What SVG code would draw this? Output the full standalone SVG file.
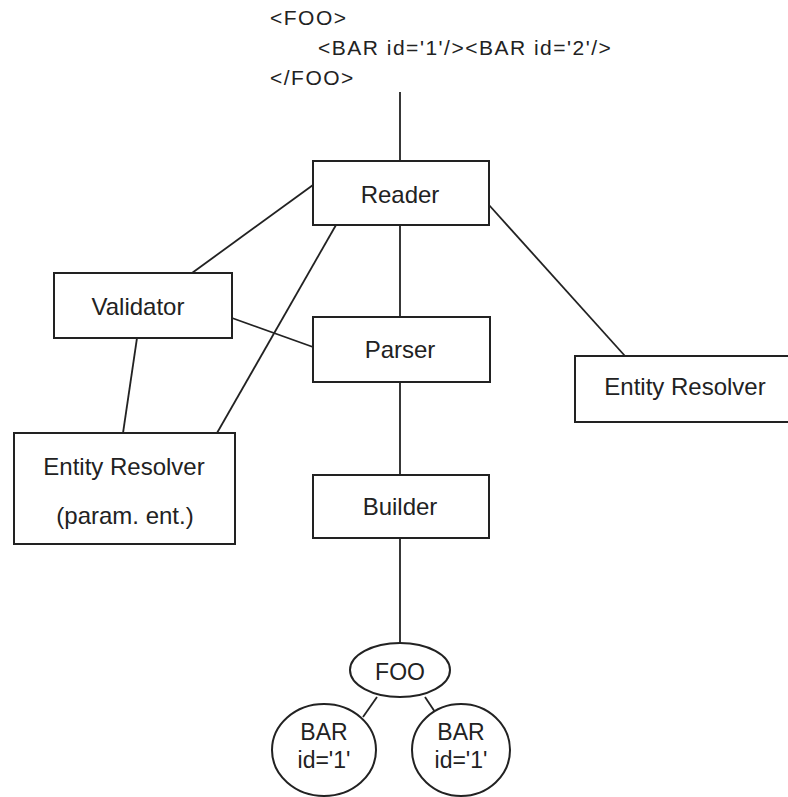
<svg xmlns="http://www.w3.org/2000/svg" width="788" height="797" viewBox="0 0 788 797">
<style>
.box{fill:#fff;stroke:#222;stroke-width:2}
.ell{fill:#fff;stroke:#222;stroke-width:2}
.conn line{stroke:#222;stroke-width:1.8}
text{font-family:"Liberation Sans",Arial,sans-serif;fill:#222}
.lbl{font-size:24px;text-anchor:middle}
.top{font-size:21px;letter-spacing:1.5px}
.el{font-size:23px;text-anchor:middle}
</style>
<rect width="788" height="797" fill="#fff"/>
<g id="source-xml">
<text class="top" x="270" y="25">&lt;FOO&gt;</text>
<text class="top" x="318" y="55">&lt;BAR id='1'/&gt;&lt;BAR id='2'/&gt;</text>
<text class="top" x="270" y="85">&lt;/FOO&gt;</text>
</g>
<g id="connectors" class="conn">
<line x1="400" y1="92" x2="400" y2="161"/>
<line x1="400" y1="225" x2="400" y2="317"/>
<line x1="400" y1="382" x2="400" y2="475"/>
<line x1="400" y1="538" x2="400" y2="643"/>
<line x1="313" y1="185" x2="192" y2="273"/>
<line x1="336" y1="225" x2="217" y2="433"/>
<line x1="232" y1="318" x2="313" y2="347"/>
<line x1="137" y1="338" x2="123" y2="433"/>
<line x1="489" y1="205" x2="625" y2="356"/>
<line x1="377" y1="697" x2="363" y2="717"/>
<line x1="425" y1="697" x2="435" y2="712"/>
</g>
<g id="reader"><rect class="box" x="313" y="161" width="176" height="64"/><text class="lbl" x="400" y="203">Reader</text></g>
<g id="parser"><rect class="box" x="313" y="317" width="177" height="65"/><text class="lbl" x="400" y="358">Parser</text></g>
<g id="builder"><rect class="box" x="313" y="475" width="176" height="63"/><text class="lbl" x="400" y="515">Builder</text></g>
<g id="validator"><rect class="box" x="54" y="273" width="178" height="65"/><text class="lbl" x="138" y="315">Validator</text></g>
<g id="entity-resolver-param"><rect class="box" x="14" y="433" width="221" height="111"/><text class="lbl" x="124" y="475">Entity Resolver</text><text class="lbl" x="125" y="524">(param. ent.)</text></g>
<g id="entity-resolver"><rect class="box" x="575" y="356" width="240" height="66"/><text class="lbl" x="685" y="395">Entity Resolver</text></g>
<g id="foo"><ellipse class="ell" cx="400" cy="670" rx="50" ry="27"/><text class="el" x="400" y="680">FOO</text></g>
<g id="bar-left"><ellipse class="ell" cx="324" cy="750" rx="52" ry="46"/><text class="el" x="324" y="740">BAR</text><text class="el" x="324" y="768">id='1'</text></g>
<g id="bar-right"><ellipse class="ell" cx="461" cy="750" rx="49" ry="46"/><text class="el" x="461" y="740">BAR</text><text class="el" x="461" y="768">id='1'</text></g>
</svg>
